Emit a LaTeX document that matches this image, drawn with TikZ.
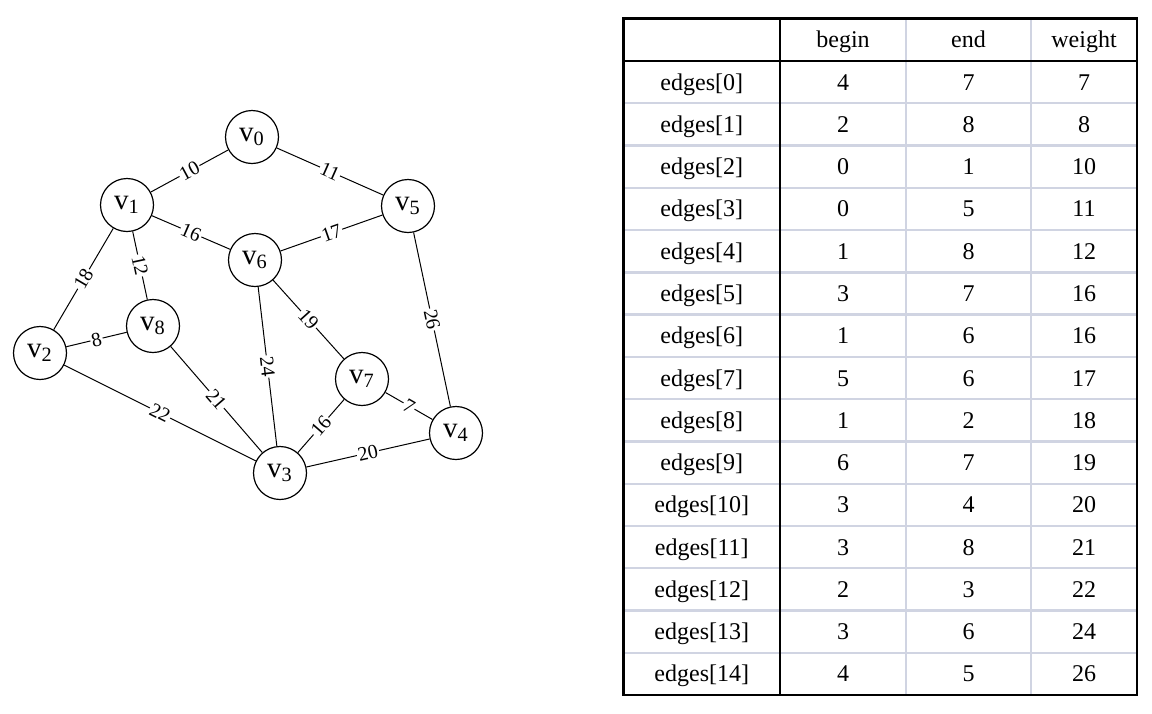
\documentclass[tikz,border=0pt]{standalone}
\usepackage{fontspec}
\setmainfont{Liberation Serif}
\definecolor{gridgray}{RGB}{208,212,226}
\begin{document}
\begin{tikzpicture}[x=0.5pt,y=-0.5pt,
  vert/.style={circle,draw,line width=0.6pt,minimum size=26.5pt,inner sep=0pt,font=\fontsize{14.5}{16}\selectfont},
  edge/.style={line width=0.5pt},
  wlab/.style={midway,sloped,fill=white,inner sep=0.6pt,font=\fontsize{10}{12}\selectfont},
  cell/.style={inner sep=0pt,anchor=base,font=\fontsize{12}{14}\selectfont},
  thickline/.style={line width=1.4pt,black},
  thinline/.style={line width=1.2pt,gridgray}]
\useasboundingbox (0,0) rectangle (1152,713);
% vertices
\node[vert] (v0) at (252,137) {v\textsubscript{0}};
\node[vert] (v1) at (127,205) {v\textsubscript{1}};
\node[vert] (v5) at (408,206) {v\textsubscript{5}};
\node[vert] (v6) at (255,260) {v\textsubscript{6}};
\node[vert] (v8) at (153,326) {v\textsubscript{8}};
\node[vert] (v2) at (40,353) {v\textsubscript{2}};
\node[vert] (v7) at (362,379) {v\textsubscript{7}};
\node[vert] (v4) at (456,433) {v\textsubscript{4}};
\node[vert] (v3) at (280,473) {v\textsubscript{3}};
% edges
\draw[edge] (v1) -- node[wlab]{10} (v0);
\draw[edge] (v0) -- node[wlab]{11} (v5);
\draw[edge] (v1) -- node[wlab]{16} (v6);
\draw[edge] (v6) -- node[wlab]{17} (v5);
\draw[edge] (v1) -- node[wlab]{18} (v2);
\draw[edge] (v1) -- node[wlab]{12} (v8);
\draw[edge] (v2) -- node[wlab]{8} (v8);
\draw[edge] (v2) -- node[wlab]{22} (v3);
\draw[edge] (v8) -- node[wlab]{21} (v3);
\draw[edge] (v6) -- node[wlab]{24} (v3);
\draw[edge] (v6) -- node[wlab]{19} (v7);
\draw[edge] (v7) -- node[wlab]{16} (v3);
\draw[edge] (v7) -- node[wlab]{7} (v4);
\draw[edge] (v3) -- node[wlab]{20} (v4);
\draw[edge] (v5) -- node[wlab]{26} (v4);
% table grid
\foreach \k in {1,...,14} {
  \draw[thinline] (623.5,{61+42.27*\k}) -- (1137,{61+42.27*\k});
}
\draw[thinline] (906,18.5) -- (906,695);
\draw[thinline] (1031,18.5) -- (1031,695);
\draw[thickline] (623.5,18.5) rectangle (1137,695);
\draw[thickline] (780,18.5) -- (780,695);
\draw[thickline] (623.5,61) -- (1137,61);
% header
\node[cell] (hb) at (843,47.5) {begin};
\node[cell] (he) at (968.5,47.5) {end};
\node[cell] (hw) at (1084,47.5) {weight};
% rows
\foreach \bb/\ee/\ww [count=\i from 0] in {4/7/7,2/8/8,0/1/10,0/5/11,1/8/12,3/7/16,1/6/16,5/6/17,1/2/18,6/7/19,3/4/20,3/8/21,2/3/22,3/6/24,4/5/26} {
  \pgfmathsetmacro\yy{61+42.27*(\i+0.5)+8}
  \node[cell] (r\i a) at (701.75,\yy) {edges[\i]};
  \node[cell] (r\i b) at (843,\yy) {\bb};
  \node[cell] (r\i e) at (968.5,\yy) {\ee};
  \node[cell] (r\i w) at (1084,\yy) {\ww};
}
\end{tikzpicture}
\end{document}
